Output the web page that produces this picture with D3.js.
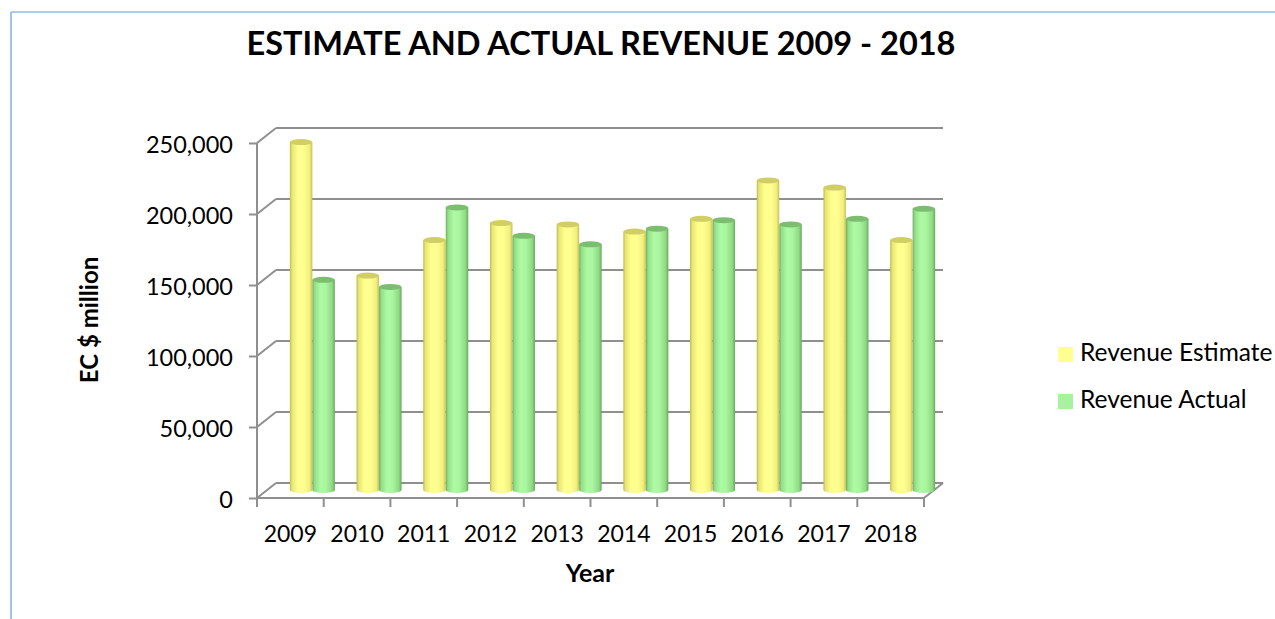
<!DOCTYPE html>
<html>
<head>
<meta charset="utf-8">
<script src="https://cdn.jsdelivr.net/npm/d3@7"></script>
<style>
  body { margin: 0; background: #fff; }
  svg { display: block; }
  text { font-family: Lato, "Open Sans", sans-serif; fill: #000; }
</style>
</head>
<body>
<div id="chart"></div>
<script>
// ------------------------------------
// Data
// ------------------------------------
const years = ["2009", "2010", "2011", "2012", "2013", "2014", "2015", "2016", "2017", "2018"];
const revenueEstimate = [245000, 151000, 176000, 188000, 187000, 182000, 191000, 218000, 213000, 176000];
const revenueActual = [148000, 143000, 199000, 179000, 173000, 184000, 190000, 187000, 191000, 198000];
const seriesNames = ["Revenue Estimate", "Revenue Actual"];
const yTicks = [0, 50000, 100000, 150000, 200000, 250000];

// ------------------------------------
// Layout
// ------------------------------------
const width = 1275;
const height = 619;
const depthX = 19, depthY = -15;     // back wall offset
const barShiftX = 22, barShiftY = -8; // where the cylinders stand

const svg = d3.select("#chart")
    .append("svg")
    .attr("width", width)
    .attr("height", height);

// frame
svg.append("line").attr("x1", 11).attr("y1", 12).attr("x2", width).attr("y2", 12)
    .attr("stroke", "#5B9BD5").attr("stroke-width", 1);
svg.append("line").attr("x1", 11).attr("y1", 12).attr("x2", 11).attr("y2", height)
    .attr("stroke", "#9DC3E6").attr("stroke-width", 2);

// scales
const x0 = d3.scaleBand().domain(years).range([257, 924]).padding(0);
const bw = x0.bandwidth();
const pairW = bw * 0.675;
const x1 = d3.scaleBand().domain(seriesNames).range([0, pairW]).padding(0);
const y = d3.scaleLinear().domain([0, 250000]).range([498, 143]);

const colors = {
  "Revenue Estimate": { top: "#D2CE66", legend: "#FFFF8F",
    stops: ["#BEBA52", "#E9E671", "#FFFF8E", "#FFFF92", "#F1EF7C", "#C4C058"] },
  "Revenue Actual": { top: "#7CBE70", legend: "#A9F0A1",
    stops: ["#6AAE61", "#93DE88", "#AEF9A4", "#AAF5A0", "#8FD884", "#66A85D"] }
};

// gradients for the cylinders
const defs = svg.append("defs");
seriesNames.forEach((s, i) => {
  const g = defs.append("linearGradient").attr("id", "cyl" + i)
      .attr("x1", "0%").attr("x2", "100%").attr("y1", "0%").attr("y2", "0%");
  const offs = [0, 0.1, 0.35, 0.6, 0.88, 1];
  colors[s].stops.forEach((c, k) => {
    g.append("stop").attr("offset", offs[k]).attr("stop-color", c);
  });
});

const gridColor = "#8F8F8F";

// back wall gridlines
svg.append("g").selectAll("line")
    .data(yTicks)
    .enter()
    .append("line")
    .attr("x1", 257 + depthX)
    .attr("x2", 924 + depthX)
    .attr("y1", d => y(d) + depthY)
    .attr("y2", d => y(d) + depthY)
    .attr("stroke", gridColor)
    .attr("stroke-width", 2);

// side wall diagonals
svg.append("g").selectAll("line")
    .data(yTicks)
    .enter()
    .append("line")
    .attr("x1", 257)
    .attr("x2", 257 + depthX)
    .attr("y1", d => y(d))
    .attr("y2", d => y(d) + depthY)
    .attr("stroke", gridColor)
    .attr("stroke-width", 2);

// floor front edge + right diagonal
svg.append("line").attr("x1", 257).attr("x2", 924).attr("y1", y(0)).attr("y2", y(0))
    .attr("stroke", gridColor).attr("stroke-width", 2);
svg.append("line").attr("x1", 924).attr("x2", 924 + depthX).attr("y1", y(0)).attr("y2", y(0) + depthY)
    .attr("stroke", gridColor).attr("stroke-width", 2);

// ------------------------------------
// Cylinders
// ------------------------------------
const rows = [];
years.forEach((yr, i) => {
  rows.push({ year: yr, series: seriesNames[1], idx: 1, value: revenueActual[i] });
  rows.push({ year: yr, series: seriesNames[0], idx: 0, value: revenueEstimate[i] });
});

const ry = 3;
const bars = svg.append("g").selectAll("g.bar")
    .data(rows)
    .enter()
    .append("g")
    .attr("class", "bar");

bars.append("path")
    .attr("d", d => {
      const left = x0(d.year) + (bw - pairW) / 2 + barShiftX + x1(d.series);
      const right = left + x1.bandwidth();
      const bottom = y(0) + barShiftY;
      const top = y(d.value) + barShiftY;
      const rx = (right - left) / 2;
      return `M${left},${top} L${left},${bottom} A${rx},${ry} 0 0 0 ${right},${bottom} L${right},${top} Z`;
    })
    .attr("fill", d => `url(#cyl${d.idx})`);

bars.append("ellipse")
    .attr("cx", d => x0(d.year) + (bw - pairW) / 2 + barShiftX + x1(d.series) + x1.bandwidth() / 2)
    .attr("cy", d => y(d.value) + barShiftY)
    .attr("rx", x1.bandwidth() / 2)
    .attr("ry", ry)
    .attr("fill", d => colors[d.series].top);

// ------------------------------------
// Axes
// ------------------------------------
// front vertical axis
svg.append("line").attr("x1", 257).attr("x2", 257).attr("y1", y(250000)).attr("y2", y(0))
    .attr("stroke", gridColor).attr("stroke-width", 2);

const yAxis = svg.append("g")
    .attr("transform", "translate(257,0)")
    .call(d3.axisLeft(y).tickValues(yTicks).tickFormat(d3.format(",")).tickSize(8).tickPadding(16));
yAxis.select(".domain").remove();
yAxis.selectAll(".tick line").attr("stroke", gridColor).attr("stroke-width", 2);
yAxis.selectAll(".tick text").style("font-size", "23.5px").attr("dy", "0.4em");

// x ticks at category boundaries
const boundaries = years.map(d => x0(d)).concat([x0.range()[1]]);
svg.append("g").selectAll("line")
    .data(boundaries)
    .enter()
    .append("line")
    .attr("x1", d => d).attr("x2", d => d)
    .attr("y1", y(0)).attr("y2", y(0) + 9)
    .attr("stroke", gridColor).attr("stroke-width", 2);

const xAxis = svg.append("g")
    .attr("transform", `translate(0,${y(0)})`)
    .call(d3.axisBottom(x0).tickSize(0).tickPadding(28));
xAxis.select(".domain").remove();
xAxis.selectAll(".tick text").style("font-size", "23px");

// titles
svg.append("text")
    .attr("x", 601).attr("y", 55)
    .attr("text-anchor", "middle")
    .style("font-size", "32.5px").style("font-weight", "bold")
    .text("ESTIMATE AND ACTUAL REVENUE 2009 - 2018");

svg.append("text")
    .attr("x", 590).attr("y", 582)
    .attr("text-anchor", "middle")
    .style("font-size", "25px").style("font-weight", "bold")
    .text("Year");

svg.append("text")
    .attr("transform", "translate(98,320) rotate(-90)")
    .attr("text-anchor", "middle")
    .style("font-size", "24px").style("font-weight", "bold")
    .text("EC $ million");

// legend
const legend = svg.append("g").selectAll("g")
    .data(seriesNames)
    .enter()
    .append("g")
    .attr("transform", (d, i) => `translate(1058,${347 + i * 47})`);

legend.append("rect")
    .attr("width", 15).attr("height", 15)
    .attr("fill", d => colors[d].legend);

legend.append("text")
    .attr("x", 22).attr("y", 14)
    .style("font-size", "24.5px")
    .text(d => d);
</script>
</body>
</html>
